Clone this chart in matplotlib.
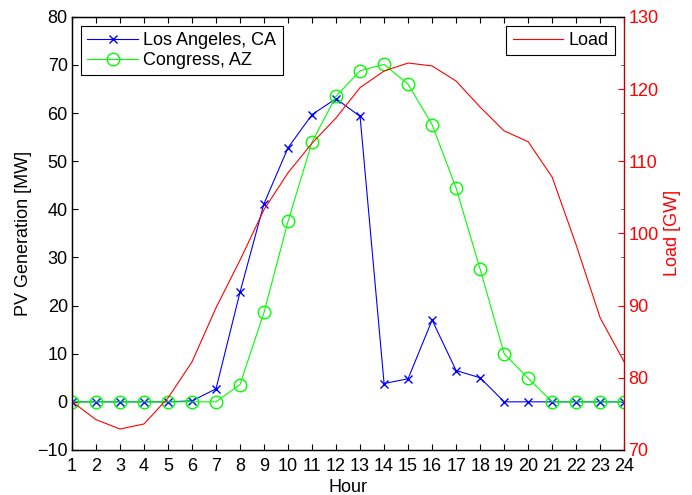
import matplotlib.pyplot as plt

plt.rcParams['font.family'] = ['Liberation Sans', 'DejaVu Sans']
plt.rcParams['font.size'] = 13

hours = list(range(1, 25))

la_pv = [0, 0, 0, 0, 0, 0.2, 2.7, 22.8, 41.2, 52.8, 59.7, 63.0,
         59.3, 3.8, 4.8, 17.0, 6.5, 5.0, 0, 0, 0, 0, 0, 0]
congress_pv = [0, 0, 0, 0, 0, 0, 0, 3.6, 18.6, 37.5, 54.0, 63.5,
               68.8, 70.1, 66.0, 57.6, 44.4, 27.6, 10.0, 4.9, 0, 0, 0, 0]
load_gw = [76.7, 74.2, 72.9, 73.6, 77.2, 82.2, 89.7, 96.3, 103.3, 108.4, 112.5, 116.0,
           120.2, 122.5, 123.6, 123.2, 121.1, 117.5, 114.2, 112.7, 107.8, 98.4, 88.3, 82.2]

fig = plt.figure(figsize=(6.92, 4.95), dpi=100)
ax = fig.add_axes([0.104, 0.091, 0.798, 0.875])
ax2 = ax.twinx()

ax.plot(hours, la_pv, color=(0, 0, 1), marker='x', markersize=6, linewidth=0.8,
        label='Los Angeles, CA')
ax.plot(hours, congress_pv, color=(0, 1, 0), marker='o', markersize=9, markerfacecolor='none',
        linewidth=0.8, label='Congress, AZ')
ax2.plot(hours, load_gw, color=(1, 0, 0), linewidth=0.8, label='Load')

ax.set_xlim(1, 24)
ax.set_ylim(-10, 80)
ax.set_xticks(hours)
ax.set_yticks(range(-10, 81, 10))
ax.set_yticklabels(['\u221210'] + [str(v) for v in range(0, 81, 10)])
ax2.set_ylim(70, 130)
ax2.set_yticks(range(70, 131, 10))

ax.tick_params(direction='in', top=True, right=False, length=4, labelsize=13, pad=3)
ax.tick_params(axis='x', pad=6)
ax2.tick_params(direction='in', colors='red', length=4, labelsize=13, pad=3)
ax2.spines['right'].set_color('#c00000')
ax2.spines['right'].set_linewidth(1.0)
ax.spines['right'].set_visible(False)
for s in ['top', 'left', 'bottom']:
    ax.spines[s].set_linewidth(1.0)

# mirror of left ticks on right side
for yv in range(-10, 81, 10):
    ax.plot([24 - 0.12, 24], [yv, yv], color='0.3', linewidth=0.6, clip_on=False)

ax.set_xlabel('Hour', labelpad=3)
ax.set_ylabel('PV Generation [MW]', labelpad=4)
ax2.set_ylabel('Load [GW]', color='red', labelpad=4)

leg1 = ax.legend(loc='upper left', fancybox=False, edgecolor='black', framealpha=1,
                 borderpad=0.35, handlelength=2.8, handletextpad=0.3, labelspacing=0.15,
                 borderaxespad=0.5, fontsize=13)
leg1.get_frame().set_linewidth(0.8)
leg2 = ax2.legend(loc='upper right', fancybox=False, edgecolor='black', framealpha=1,
                  borderpad=0.35, handlelength=2.8, handletextpad=0.3,
                  borderaxespad=0.5, fontsize=13)
leg2.get_frame().set_linewidth(0.8)

fig.savefig('out.png', dpi=100)
